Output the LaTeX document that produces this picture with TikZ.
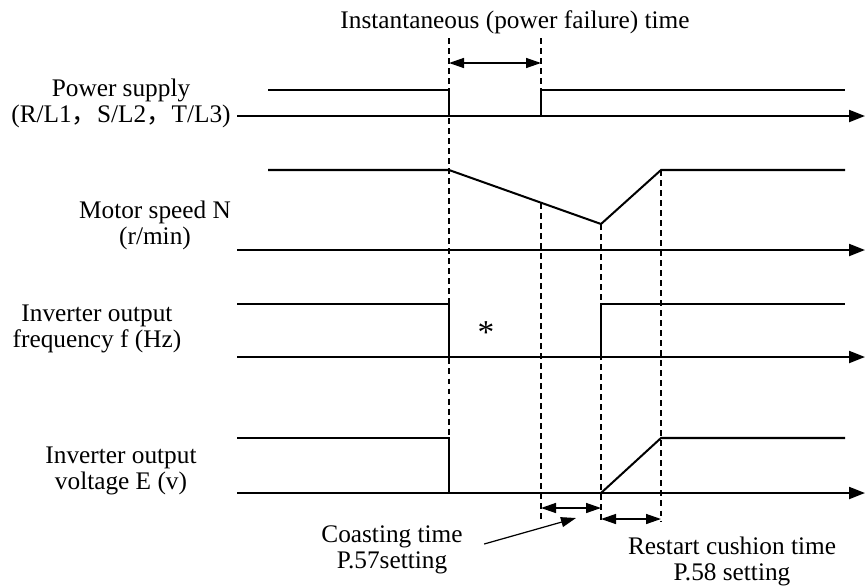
\documentclass[tikz,border=0pt]{standalone}
\usepackage{fontspec}
\setmainfont{Liberation Serif}
\newfontfamily\cjk{Noto Sans CJK SC}
\usetikzlibrary{arrows.meta}

\begin{document}
\begin{tikzpicture}[x=0.02cm,y=-0.02cm,
    every node/.style={font=\fontsize{14.4}{14.8}\selectfont},
    lbl/.style={align=center,inner sep=0pt},
    wave/.style={line width=1.15pt},
    axis/.style={line width=1.15pt,-{Triangle[length=0.32cm,width=0.24cm]}},
    guide/.style={line width=0.6pt,dash pattern=on 3.4pt off 2.3pt},
    span/.style={line width=0.8pt,{Triangle[length=0.3cm,width=0.2cm]}-{Triangle[length=0.3cm,width=0.2cm]}},
    pointer/.style={line width=0.7pt,-{Triangle[length=0.3cm,width=0.2cm]}}]
  \useasboundingbox (0,0) rectangle (865,585);
  % labels
  \node[lbl] (title) at (515,22) {Instantaneous (power failure) time};
  \node[lbl,anchor=east] (ps) at (231,103) {Power supply\\(R/L1{\cjk ，}S/L2{\cjk ，}T/L3)};
  \node[lbl] (ms) at (155,225) {Motor speed N\\(r/min)};
  \node[lbl] (fr) at (97,329) {Inverter output\\frequency f (Hz)};
  \node[lbl] (vo) at (121,471) {Inverter output\\voltage E (v)};
  \node[lbl] (coast) at (392,550) {Coasting time\\P.57setting};
  \node[lbl] (cush) at (732,561) {Restart cushion time\\P.58 setting};
  \node[font=\fontsize{19}{19}\selectfont] (star) at (486,333) {*};
  % time axes
  \draw[axis] (237,116) -- (865,116);
  \draw[axis] (237,250) -- (865,250);
  \draw[axis] (237,357) -- (865,357);
  \draw[axis] (237,493) -- (865,493);
  % signals
  \draw[wave] (268,90) -- (449,90) -- (449,116);
  \draw[wave] (541,116) -- (541,90) -- (845,90);
  \draw[wave] (268,170) -- (449,170) -- (601,224) -- (661,170) -- (845,170);
  \draw[wave] (237,304) -- (449,304) -- (449,357);
  \draw[wave] (601,357) -- (601,304) -- (845,304);
  \draw[wave] (237,438) -- (449,438) -- (449,493);
  \draw[wave] (601,493) -- (661,438) -- (845,438);
  % guide lines
  \draw[guide] (449,38) -- (449,438);
  \draw[guide] (541,38) -- (541,90);
  \draw[guide] (541,203) -- (541,521);
  \draw[guide] (601,224) -- (601,522);
  \draw[guide] (661,170) -- (661,522);
  % time spans
  \draw[span] (449,63) -- (541,63);
  \draw[span] (541,508) -- (601,508);
  \draw[span] (601,519) -- (661,519);
  \coordinate (ct) at (576,518);
  \draw[pointer,shorten <=0.44cm] (coast.east) -- (ct);
\end{tikzpicture}
\end{document}
